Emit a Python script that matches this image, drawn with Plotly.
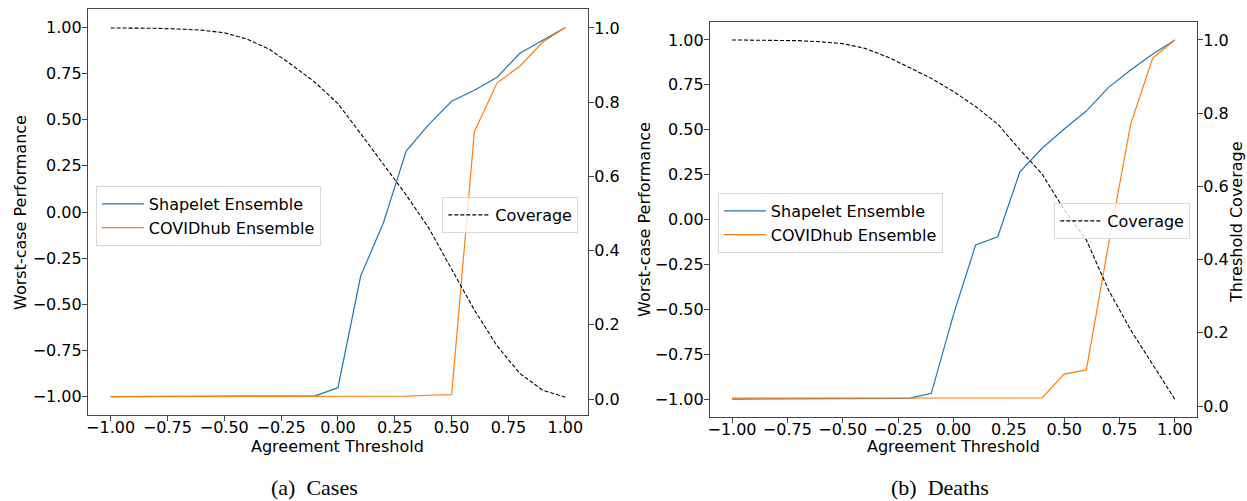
import plotly.graph_objects as go

x_vals = [-1.0, -0.9, -0.8, -0.7, -0.6, -0.5, -0.4, -0.3, -0.2, -0.1, 0.0,
          0.1, 0.2, 0.3, 0.4, 0.5, 0.6, 0.7, 0.8, 0.9, 1.0]

# (a) Cases
cases_shapelet = [-1.0, -1.0, -1.0, -1.0, -1.0, -1.0, -0.998, -0.998, -0.997, -0.996, -0.952,
                  -0.347, -0.058, 0.33, 0.475, 0.60, 0.66, 0.73, 0.86, 0.93, 1.0]
cases_covid = [-1.0, -1.0, -1.0, -1.0, -1.0, -1.0, -1.0, -1.0, -1.0, -1.0, -1.0,
               -1.0, -0.999, -0.998, -0.993, -0.99, 0.435, 0.70, 0.79, 0.92, 1.0]
cases_coverage = [1.0, 1.0, 0.999, 0.997, 0.994, 0.987, 0.970, 0.942, 0.899, 0.853, 0.796,
                  0.715, 0.633, 0.55, 0.46, 0.35, 0.24, 0.143, 0.069, 0.024, 0.005]

# (b) Deaths
deaths_shapelet = [-1.0, -1.0, -1.0, -1.0, -1.0, -1.0, -0.999, -0.998, -0.996, -0.968, -0.53,
                   -0.142, -0.096, 0.266, 0.397, 0.504, 0.604, 0.736, 0.833, 0.922, 1.0]
deaths_covid = [-0.995, -0.995, -0.995, -0.995, -0.995, -0.995, -0.995, -0.995, -0.995, -0.995, -0.995,
                -0.995, -0.995, -0.994, -0.994, -0.861, -0.838, -0.14, 0.53, 0.90, 1.0]
deaths_coverage = [1.0, 1.0, 1.0, 0.998, 0.995, 0.99, 0.977, 0.954, 0.925, 0.895, 0.859,
                   0.818, 0.770, 0.70, 0.634, 0.536, 0.454, 0.317, 0.208, 0.112, 0.018]

x_ticks = [-1.0, -0.75, -0.5, -0.25, 0.0, 0.25, 0.5, 0.75, 1.0]
left_ticks = [-1.0, -0.75, -0.5, -0.25, 0.0, 0.25, 0.5, 0.75, 1.0]
right_ticks = [0.0, 0.2, 0.4, 0.6, 0.8, 1.0]

W, H = 1247, 501
BLUE, ORANGE = "#1f77b4", "#ff7f0e"
FONT = "DejaVu Sans"
FS = 16
AX = "#444444"

fig = go.Figure()
fig.add_trace(go.Scatter(x=x_vals, y=cases_shapelet, mode="lines", name="Shapelet Ensemble",
                         line=dict(color=BLUE, width=1.2), xaxis="x", yaxis="y", legend="legend"))
fig.add_trace(go.Scatter(x=x_vals, y=cases_covid, mode="lines", name="COVIDhub Ensemble",
                         line=dict(color=ORANGE, width=1.2), xaxis="x", yaxis="y", legend="legend"))
fig.add_trace(go.Scatter(x=x_vals, y=cases_coverage, mode="lines", name="Coverage",
                         line=dict(color="black", width=1.1, dash="4px,2px"), xaxis="x", yaxis="y2",
                         legend="legend2"))
fig.add_trace(go.Scatter(x=x_vals, y=deaths_shapelet, mode="lines", name="Shapelet Ensemble",
                         line=dict(color=BLUE, width=1.2), xaxis="x2", yaxis="y3", legend="legend3"))
fig.add_trace(go.Scatter(x=x_vals, y=deaths_covid, mode="lines", name="COVIDhub Ensemble",
                         line=dict(color=ORANGE, width=1.2), xaxis="x2", yaxis="y3", legend="legend3"))
fig.add_trace(go.Scatter(x=x_vals, y=deaths_coverage, mode="lines", name="Coverage",
                         line=dict(color="black", width=1.1, dash="4px,2px"), xaxis="x2", yaxis="y4",
                         legend="legend4"))

common_ax = dict(showgrid=False, zeroline=False, showline=True, linecolor=AX, linewidth=1,
                 ticks="outside", ticklen=5, tickwidth=1, tickcolor=AX,
                 tickfont=dict(family=FONT, size=FS, color="black"))
x_ax = dict(ticklabelstandoff=-7, **common_ax)
y_ax = dict(ticklabelstandoff=-3, **common_ax)

d1 = [86 / W, 587 / W]
d2 = [709 / W, 1197 / W]
yd1 = [(H - 415) / H, (H - 9) / H]
yd2 = [(H - 417) / H, (H - 22) / H]

leg_common = dict(font=dict(family=FONT, size=FS, color="black"), bgcolor="rgba(255,255,255,0.8)",
                  bordercolor="#d8d8d8", borderwidth=1, xanchor="left", yanchor="top",
                  xref="paper", yref="paper", tracegroupgap=0, itemwidth=42)

fig.update_layout(
    width=W, height=H, margin=dict(l=0, r=0, t=0, b=0),
    paper_bgcolor="white", plot_bgcolor="white",
    font=dict(family=FONT, size=FS, color="black"),
    xaxis=dict(domain=d1, range=[-1.1, 1.1], tickvals=x_ticks, tickformat=".2f", anchor="y",
               mirror=True, **x_ax),
    yaxis=dict(domain=yd1, range=[-1.1, 1.1], tickvals=left_ticks, tickformat=".2f", anchor="x",
               **y_ax),
    yaxis2=dict(overlaying="y", side="right", anchor="x", range=[-0.043, 1.051], tickvals=right_ticks,
                tickformat=".1f", **y_ax),
    xaxis2=dict(domain=d2, range=[-1.1, 1.1], tickvals=x_ticks, tickformat=".2f", anchor="y3",
                mirror=True, **x_ax),
    yaxis3=dict(domain=yd2, range=[-1.1, 1.1], tickvals=left_ticks, tickformat=".2f", anchor="x2",
                **y_ax),
    yaxis4=dict(overlaying="y3", side="right", anchor="x2", range=[-0.030, 1.049], tickvals=right_ticks,
                tickformat=".1f", **y_ax),
    legend=dict(x=94 / W, y=1 - 186 / H, **leg_common),
    legend2=dict(x=441 / W, y=1 - 197 / H, **leg_common),
    legend3=dict(x=717 / W, y=1 - 193 / H, **leg_common),
    legend4=dict(x=1054 / W, y=1 - 203 / H, **leg_common),
    showlegend=True,
)

ann = [
    dict(text="Agreement Threshold", x=(86 + 587) / 2 / W, y=1 - 446 / H),
    dict(text="Agreement Threshold", x=(709 + 1197) / 2 / W, y=1 - 446 / H),
    dict(text="Worst-case Performance", x=18 / W, y=1 - 212 / H, textangle=-90),
    dict(text="Worst-case Performance", x=643 / W, y=1 - 219 / H, textangle=-90),
    dict(text="Threshold Coverage", x=1237 / W, y=1 - 222 / H, textangle=-90),
]
for a in ann:
    fig.add_annotation(xref="paper", yref="paper", showarrow=False, xanchor="center", yanchor="middle",
                       font=dict(family=FONT, size=FS, color="black"), **a)

for txt, xc in [("(a)\u00a0 Cases", 313), ("(b)\u00a0 Deaths", 940)]:
    fig.add_annotation(xref="paper", yref="paper", showarrow=False, xanchor="center", yanchor="middle",
                       x=xc / W, y=1 - 487 / H, text=txt,
                       font=dict(family="Liberation Serif", size=22, color="black"))

fig.write_html("out.html")
